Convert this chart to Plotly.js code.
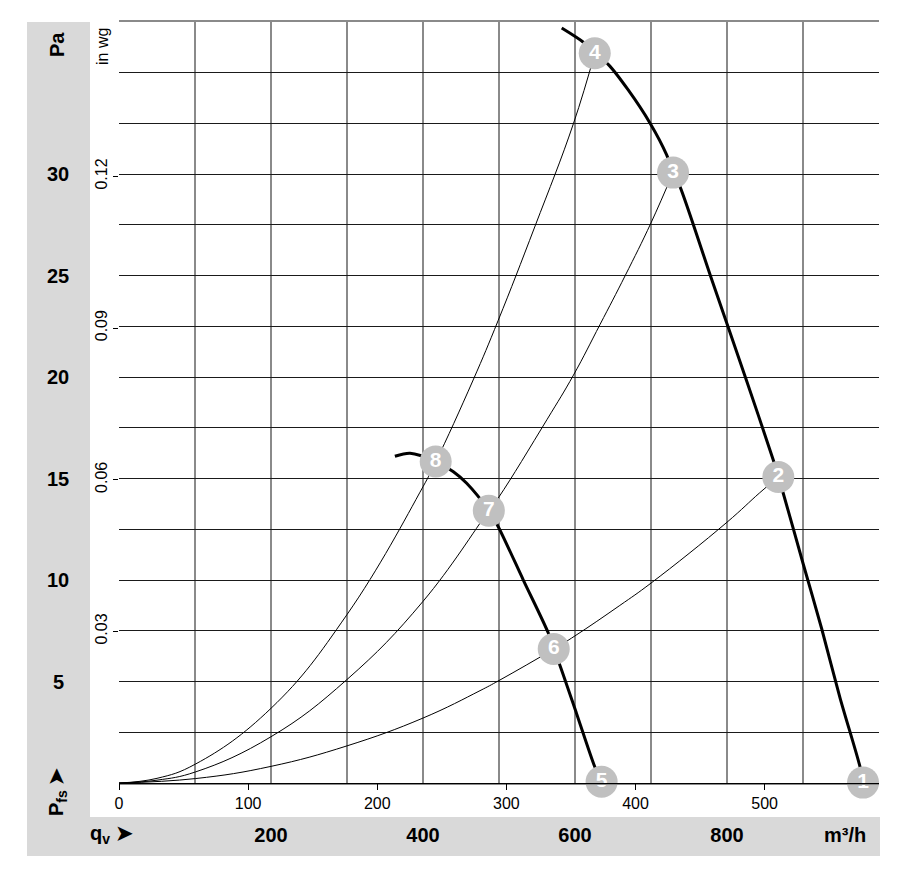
<!DOCTYPE html>
<html>
<head>
<meta charset="utf-8">
<script src="https://cdn.plot.ly/plotly-3.0.1.min.js"></script>
<style>html,body{margin:0;padding:0;background:#fff;}#chart{width:909px;height:881px;}</style>
</head>
<body>
<div id="chart"></div>
<script>
// ---- data (m³/h, Pa) ----
const flowLabelVals = [200,400,600,800];
const flowLabels = ['200','400','600','800'];
const flowGridStep = 100;
const paGridStep = 2.5;
const paLabelVals = [5,10,15,20,25,30];
const cfmTicks = [0,100,200,300,400,500];
const inwgTicks = [0.03,0.06,0.09,0.12];
const inwgLabels = ['0.03','0.06','0.09','0.12'];

// system curves (thin)
const sysA_q = [0,50,101,200,300,400,417,466,499,547,598,626];
const sysA_p = [0,0.23,0.94,3.68,8.3,14.6,15.84,19.86,22.8,27.4,32.5,35.96];
const sysB_q = [0,50,101,200,300,400,486.6,500,563,598,633,666,700,729];
const sysB_p = [0,0.14,0.55,2.28,5.1,8.95,13.42,14.1,17.9,20.1,22.6,25.0,27.6,30.08];
const sysC_q = [0,101,200,300,400,475,500,572,600,659,700,800,843,867.5];
const sysC_p = [0,0.22,0.82,1.83,3.2,4.55,5.05,6.6,7.25,8.75,9.85,12.85,14.3,15.08];

// fan curves (thick)
const fanHi_q = [582.5,611,626,644,670,699,720.6,729,738,780,826,861,867.5,874,900,924.6,948.7,975,979];
const fanHi_p = [37.2,36.5,35.96,35.4,34.15,32.5,30.95,30.08,29.4,24.8,19.8,15.9,15.08,14.28,10.83,7.6,4.2,0.8,0.02];
const fanLo_q = [363,383,416.7,440,457.5,486.6,499,532,565,572,580,602,626,635];
const fanLo_p = [16.1,16.25,15.84,15.34,14.77,13.42,12.63,10.0,7.38,6.6,5.82,3.43,0.8,0.06];

// operating points
const ptLabels = ['1','2','3','4','5','6','7','8'];
const pt_q = [979,867.5,729,626,635,572,486.6,416.7];
const pt_p = [0.02,15.08,30.08,35.96,0.06,6.6,13.42,15.84];

const M3H_PER_CFM = 1.699;
const PA_PER_INWG = 249.089;
const xMax = 1000, yMax = 37.5;

const FONT = 'Arial, "Liberation Sans", sans-serif';
const thin = {color:'#000', width:1, shape:'spline', smoothing:1.2};
const thick = {color:'#000', width:3, shape:'spline', smoothing:0.8};

const traces = [
  {x:[0], y:[0], xaxis:'x2', yaxis:'y2', mode:'markers', marker:{opacity:0}, hoverinfo:'skip'},
  {x:sysA_q, y:sysA_p, mode:'lines', line:thin, hoverinfo:'skip'},
  {x:sysB_q, y:sysB_p, mode:'lines', line:thin, hoverinfo:'skip'},
  {x:sysC_q, y:sysC_p, mode:'lines', line:thin, hoverinfo:'skip'},
  {x:fanHi_q, y:fanHi_p, mode:'lines', line:thick, hoverinfo:'skip', cliponaxis:false},
  {x:fanLo_q, y:fanLo_p, mode:'lines', line:thick, hoverinfo:'skip'},
  {x:[971], y:[-0.75], mode:'text', text:['cfm'], textfont:{family:FONT,size:16,color:'#000'}, cliponaxis:false, hoverinfo:'skip'},
  {x:pt_q, y:pt_p, mode:'markers+text', text:ptLabels, textposition:'middle center',
   marker:{size:32, color:'#c0c0c0', line:{width:0}},
   textfont:{family:FONT, size:21, color:'#fff', weight:'bold'}, cliponaxis:false, hoverinfo:'skip'}
];

const px2paperX = px => (px-119)/760;
const px2paperY = py => (783-py)/761;

const shapes = [
  {type:'rect', xref:'paper', yref:'paper', x0:px2paperX(27), x1:px2paperX(90), y0:px2paperY(856), y1:px2paperY(22), fillcolor:'#d9d9d9', line:{width:0}, layer:'below'},
  {type:'rect', xref:'paper', yref:'paper', x0:px2paperX(27), x1:px2paperX(880), y0:px2paperY(856), y1:px2paperY(817), fillcolor:'#d9d9d9', line:{width:0}, layer:'below'}
];

const boldF = {family:FONT, size:20, color:'#000', weight:'bold'};
const annotations = paLabelVals.map(v => ({
  x:px2paperX(58), xref:'paper', y:v, yref:'y', text:String(v), showarrow:false,
  xanchor:'center', yanchor:'middle', font:boldF
}));
const ann = (px, py, text, font, angle) => ({x:px2paperX(px), y:px2paperY(py), xref:'paper', yref:'paper',
  text:text, textangle:angle||0, showarrow:false, xanchor:'center', yanchor:'middle', font:font});
annotations.push(
  ann(57, 45, 'Pa', boldF, -90),
  ann(102, 47, 'in wg', {family:FONT,size:16,color:'#000'}, -90),
  ann(57, 792, 'P<sub>fs</sub> ➤', boldF, -90),
  ann(111, 835, 'q<sub>v</sub> ➤', boldF, 0),
  ann(845, 835, 'm³/h', boldF, 0)
);

const layout = {
  width:909, height:881,
  margin:{l:119, r:30, t:22, b:98, pad:0},
  paper_bgcolor:'#fff', plot_bgcolor:'#fff',
  showlegend:false,
  font:{family:FONT, color:'#000'},
  xaxis:{range:[0,xMax], tickmode:'array', tickvals:flowLabelVals, ticktext:flowLabels,
    showgrid:true, gridcolor:'#8a8a8a', gridwidth:2,
    minor:{dtick:flowGridStep, tick0:0, showgrid:true, gridcolor:'#8a8a8a', gridwidth:2, ticks:''},
    zeroline:false, showline:true, mirror:true, linecolor:'#8a8a8a', linewidth:2,
    ticks:'', ticklabelstandoff:33, tickfont:boldF, fixedrange:true},
  yaxis:{range:[0,yMax], dtick:paGridStep, tick0:0, showticklabels:false,
    showgrid:true, gridcolor:'#1a1a1a', gridwidth:1, zeroline:false,
    showline:false, ticks:'', fixedrange:true},
  xaxis2:{overlaying:'x', side:'bottom', anchor:'y', range:[0, xMax/M3H_PER_CFM],
    tickmode:'array', tickvals:cfmTicks, ticks:'outside', ticklen:6, tickcolor:'#000', tickwidth:1,
    showgrid:false, zeroline:false, showline:true, linecolor:'#000', linewidth:1, tickfont:{family:FONT,size:16,color:'#000'}, fixedrange:true},
  yaxis2:{overlaying:'y', side:'left', anchor:'x', range:[0, yMax/PA_PER_INWG],
    tickmode:'array', tickvals:inwgTicks, ticktext:inwgLabels, ticks:'outside', ticklen:5, tickcolor:'#000', tickwidth:1,
    tickangle:-90, showgrid:false, zeroline:false, showline:false, tickfont:{family:FONT,size:16,color:'#000'}, fixedrange:true},
  shapes:shapes,
  annotations:annotations
};

Plotly.newPlot('chart', traces, layout, {displayModeBar:false, staticPlot:true});
</script>
</body>
</html>
